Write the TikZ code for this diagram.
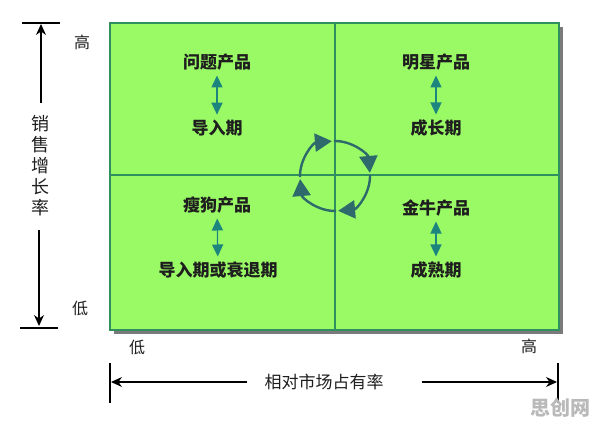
\documentclass[tikz,border=0pt]{standalone}
\usepackage{fontspec}
\setmainfont{Noto Sans CJK SC}
\usepackage{xcolor}
\usepackage{tikz}
\usetikzlibrary{arrows.meta, positioning, calc}
\definecolor{boxGreen}{HTML}{99FA66}
\definecolor{edgeGreen}{HTML}{2F8F5F}
\definecolor{shadowGray}{HTML}{7A7A7A}
\definecolor{cycleTeal}{HTML}{2E6A6C}
\definecolor{stageTeal}{HTML}{1C857E}
\definecolor{inkGray}{HTML}{1E1E1E}
\tikzset{
  quadT/.style={font=\fontsize{17}{17}\selectfont\bfseries, text=inkGray, inner sep=0pt},
  axisT/.style={font=\fontsize{17}{17}\selectfont, text=inkGray, inner sep=0pt},
  tickT/.style={font=\fontsize{16}{16}\selectfont, text=inkGray, inner sep=0pt},
  stageArrow/.style={draw=stageTeal, line width=1.3pt,
                     {Triangle[width=11pt,length=12pt]}-{Triangle[width=11pt,length=12pt]},
                     shorten <=5pt, shorten >=5pt},
  cycleArrow/.style={draw=cycleTeal, line width=2.4pt, -{Triangle[width=18pt,length=17pt]}},
  axisArrow/.style={draw=black, line width=1.1pt, -{Stealth[width=10pt,length=11pt]}},
  axisBar/.style={draw=black, line width=1.1pt},
}

\begin{document}
\begin{tikzpicture}[x=1pt,y=-1pt]
    \useasboundingbox (0,0) rectangle (596,427);
    % matrix box with shadow
    \coordinate (boxNW) at (110,23);
    \coordinate (boxSE) at (559,330);
    \fill[shadowGray] ($(boxNW)+(4,4)$) rectangle ($(boxSE)+(4,4)$);
    \draw[edgeGreen, line width=1.6pt, fill=boxGreen] (boxNW) rectangle (boxSE);
    \coordinate (midN) at (335,23);
    \coordinate (midS) at (335,330);
    \coordinate (midW) at (110,175);
    \coordinate (midE) at (559,175);
    \draw[edgeGreen, line width=1.3pt] (midN) -- (midS);
    \draw[edgeGreen, line width=1.3pt] (midW) -- (midE);

    % quadrant labels
    \foreach \n/\x/\y/\lbl in {qTL/217/62/问题产品, qTLs/217/128/导入期,
                               qTR/436/62/明星产品, qTRs/436/128/成长期,
                               qBL/217/205/瘦狗产品, qBLs/218/270/导入期或衰退期,
                               qBR/436/208/金牛产品, qBRs/436/270/成熟期}{
      \node[quadT] (\n) at (\x,\y) {\lbl};
    }
    \foreach \a/\b in {qTL/qTLs, qTR/qTRs, qBL/qBLs, qBR/qBRs}{
      \draw[stageArrow] (\a) -- (\b);
    }

    % cycle in the centre
    \coordinate (cyc) at (335,176);
    \foreach \s in {182,92,2,-88}{
      \draw[cycleArrow] ($(cyc)+(\s:35pt)$) arc[start angle=\s, end angle=\s-87, radius=35pt];
    }

    % vertical axis
    \node[axisT, align=center, font=\fontsize{18}{21}\selectfont] (yLab) at (40,166)
      {销\\售\\增\\长\\率};
    \coordinate (yTop) at (41,23);
    \coordinate (yBot) at (39,328);
    \draw[axisBar] ($(yTop)+(-19,0)$) -- ($(yTop)+(19,0)$);
    \draw[axisBar] ($(yBot)+(-19,0)$) -- ($(yBot)+(19,0)$);
    \draw[axisArrow, shorten <=13pt, shorten >=1pt] (yLab.north -| yTop) -- (yTop);
    \draw[axisArrow, shorten <=14pt, shorten >=2pt] (yLab.south -| yBot) -- (yBot);
    \node[tickT] (yHi) at (82,42) {高};
    \node[tickT] (yLo) at (80,308) {低};

    % horizontal axis
    \node[axisT] (xLab) at (324,382) {相对市场占有率};
    \coordinate (xL) at (110,382);
    \coordinate (xR) at (558,382);
    \draw[axisBar] ($(xL)+(0,-19)$) -- ($(xL)+(0,21)$);
    \draw[axisBar] ($(xR)+(0,-19)$) -- ($(xR)+(0,21)$);
    \draw[axisArrow, shorten <=17pt, shorten >=1pt] (xLab.west) -- (xL);
    \draw[axisArrow, shorten <=38pt, shorten >=1pt] (xLab.east) -- (xR);
    \node[tickT] (xLo) at (137,347) {低};
    \node[tickT] (xHi) at (529,346) {高};

    % watermark
    \node[font=\fontsize{20}{20}\selectfont\bfseries, text=gray!55, inner sep=0pt] (wMark)
      at (560,408) {思创网};
\end{tikzpicture}
\end{document}
